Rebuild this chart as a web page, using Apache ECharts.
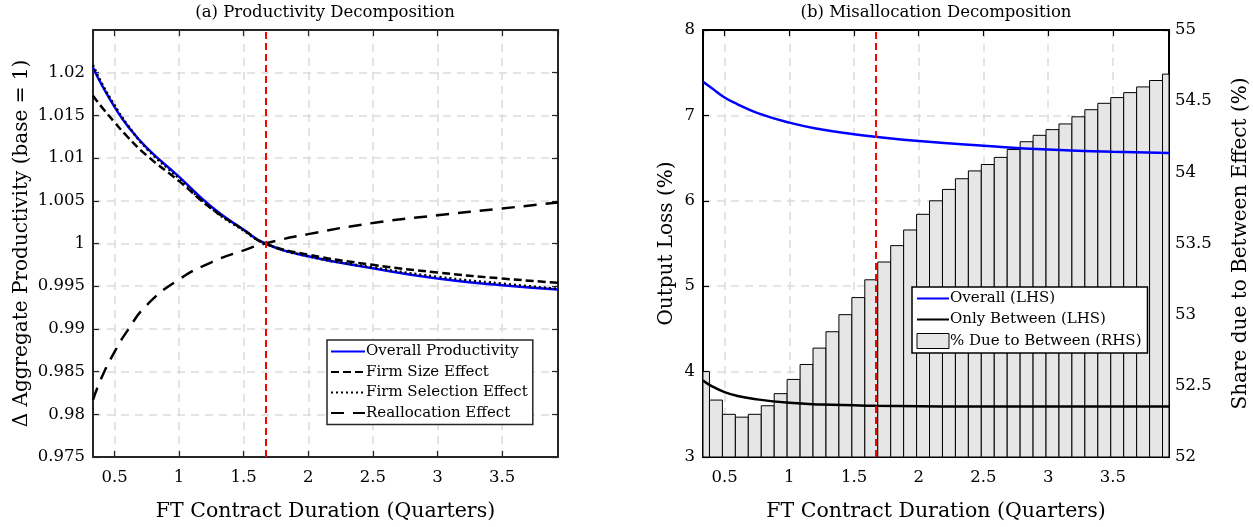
<!DOCTYPE html>
<html>
<head>
<meta charset="utf-8">
<script src="https://cdn.jsdelivr.net/npm/echarts@6/dist/echarts.min.js"></script>
<style>
html,body{margin:0;padding:0;background:#fff;}
#main{width:1253px;height:527px;}
</style>
</head>
<body>
<div id="main"></div>
<script>
// bar positions (quarters) and share due to between effect (RHS, %)
var xBar = [0.3333, 0.4333, 0.5333, 0.6333, 0.7333, 0.8333, 0.9333, 1.0333, 1.1333, 1.2333,
            1.3333, 1.4333, 1.5333, 1.6333, 1.7333, 1.8333, 1.9333, 2.0333, 2.1333, 2.2333,
            2.3333, 2.4333, 2.5333, 2.6333, 2.7333, 2.8333, 2.9333, 3.0333, 3.1333, 3.2333,
            3.3333, 3.4333, 3.5333, 3.6333, 3.7333, 3.8333, 3.9333];
var shareBetween = [52.60, 52.40, 52.30, 52.28, 52.30, 52.36, 52.445, 52.545, 52.65, 52.765,
                    52.88, 53.00, 53.12, 53.245, 53.37, 53.485, 53.595, 53.705, 53.80, 53.88,
                    53.955, 54.01, 54.055, 54.105, 54.16, 54.215, 54.26, 54.30, 54.34, 54.39,
                    54.44, 54.485, 54.525, 54.56, 54.60, 54.645, 54.69];
var barStep = 0.1;

// sample points for the curves
var xLine = [0.3333, 0.4, 0.5, 0.6, 0.75, 1.0, 1.25, 1.5, 1.6667, 2.0, 2.5, 3.0, 3.5, 3.9333];

// (a) productivity decomposition
var overallProd   = [1.0206, 1.0186, 1.0160, 1.0138, 1.0112, 1.0078, 1.0043, 1.0016, 1.0000, 0.9985, 0.9971, 0.9959, 0.9951, 0.9946];
var firmSize      = [1.0173, 1.0160, 1.0142, 1.0125, 1.0103, 1.0073, 1.0041, 1.0016, 1.0000, 0.9987, 0.9975, 0.9966, 0.9959, 0.9954];
var firmSelection = [1.0209, 1.0188, 1.0162, 1.0139, 1.0111, 1.0076, 1.0041, 1.0015, 1.0000, 0.9985, 0.9972, 0.9961, 0.9953, 0.9947];
var reallocation  = [0.9817, 0.9843, 0.9873, 0.9898, 0.9928, 0.9958, 0.9978, 0.9992, 1.0000, 1.0011, 1.0024, 1.0033, 1.0041, 1.0048];

// (b) misallocation decomposition (LHS, %)
var overallLoss = [7.394, 7.32, 7.21, 7.13, 7.03, 6.915, 6.835, 6.78, 6.75, 6.70, 6.645, 6.60, 6.575, 6.56];
var onlyBetween = [3.896, 3.83, 3.76, 3.715, 3.675, 3.635, 3.615, 3.605, 3.60, 3.595, 3.59, 3.59, 3.59, 3.59];

var cutoff = 1.6667;

var FONT = '"DejaVu Serif", "Liberation Serif", serif';

function pairs(xs, ys) {
  return xs.map(function (x, i) { return [x, ys[i]]; });
}

function xAx(grid, pos, main, col) {
  return {
    type: 'value', gridIndex: grid, position: pos,
    min: 0.3333, max: 3.9333, splitNumber: 7,
    axisLine: {show: true, onZero: false, lineStyle: {color: col, width: 2}},
    axisTick: {show: true, inside: true, length: 6, lineStyle: {color: col, width: 1.2}},
    axisLabel: {show: main, showMinLabel: false, showMaxLabel: false, margin: 12,
                fontFamily: FONT, fontSize: 16.5, color: '#000'},
    splitLine: {show: main, lineStyle: {color: '#dcdcdc', type: [8, 6], width: 1.5}},
    name: main ? 'FT Contract Duration (Quarters)' : '',
    nameLocation: 'middle', nameGap: 44,
    nameTextStyle: {fontFamily: FONT, fontSize: 20.5, color: '#000'}
  };
}

// bars drawn through the axes and cut to the plot area
function renderBar(params, api) {
  var top = api.coord([api.value(0), api.value(1)]);
  var base = api.coord([api.value(0), 52]);
  var w = api.size([barStep, 0])[0];
  var cs = params.coordSys;
  var rect = echarts.graphic.clipRectByRect(
    {x: top[0] - w / 2, y: top[1], width: w, height: base[1] - top[1]},
    {x: cs.x, y: cs.y, width: cs.width, height: cs.height}
  );
  if (!rect) return;
  return {type: 'rect', shape: rect, style: api.style()};
}

var grid = [
  {left: 93, top: 30, width: 465, height: 433},
  {left: 703, top: 30, width: 466, height: 433}
];

var chart = echarts.init(document.getElementById('main'));
chart.setOption({
  animation: false,
  backgroundColor: '#fff',
  grid: grid,
  graphic: [
    {type: 'text', x: 325, y: 4, style: {text: '(a) Productivity Decomposition', textAlign: 'center',
      fontFamily: FONT, fontSize: 16.5, fill: '#000'}},
    {type: 'text', x: 936, y: 4, style: {text: '(b) Misallocation Decomposition', textAlign: 'center',
      fontFamily: FONT, fontSize: 16.5, fill: '#000'}}
  ],
  xAxis: [
    xAx(0, 'bottom', true, '#262626'),
    xAx(0, 'top', false, '#262626'),
    xAx(1, 'bottom', true, '#000'),
    xAx(1, 'top', false, '#000')
  ],
  yAxis: [
    {
      type: 'value', gridIndex: 0, position: 'left', min: 0.975, max: 1.025, interval: 0.005,
      axisLine: {show: true, onZero: false, lineStyle: {color: '#262626', width: 2}},
      axisTick: {show: true, inside: true, length: 6, lineStyle: {color: '#262626', width: 1.2}},
      axisLabel: {showMaxLabel: false, margin: 8, fontFamily: FONT, fontSize: 16.5, color: '#000',
                  formatter: function (v) { return String(parseFloat(v.toFixed(3))); }},
      splitLine: {show: true, lineStyle: {color: '#dcdcdc', type: [8, 6], width: 1.5}},
      name: '\u0394 Aggregate Productivity (base = 1)', nameLocation: 'middle', nameGap: 61, nameRotate: 90,
      nameTextStyle: {fontFamily: FONT, fontSize: 20, color: '#000'}
    },
    {
      type: 'value', gridIndex: 0, position: 'right', min: 0.975, max: 1.025, interval: 0.005,
      axisLine: {show: true, onZero: false, lineStyle: {color: '#262626', width: 2}},
      axisTick: {show: true, inside: true, length: 6, lineStyle: {color: '#262626', width: 1.2}},
      axisLabel: {show: false}, splitLine: {show: false}
    },
    {
      type: 'value', gridIndex: 1, position: 'left', min: 3, max: 8, interval: 1,
      axisLine: {show: true, onZero: false, lineStyle: {color: '#000', width: 2}},
      axisTick: {show: true, inside: true, length: 6, lineStyle: {color: '#000', width: 1.2}},
      axisLabel: {margin: 8, fontFamily: FONT, fontSize: 16.5, color: '#000'},
      splitLine: {show: true, lineStyle: {color: '#dcdcdc', type: [8, 6], width: 1.5}},
      name: 'Output Loss (%)', nameLocation: 'middle', nameGap: 26, nameRotate: 90,
      nameTextStyle: {fontFamily: FONT, fontSize: 20, color: '#000'}
    },
    {
      type: 'value', gridIndex: 1, position: 'right', min: 52, max: 55, interval: 0.5,
      axisLine: {show: true, onZero: false, lineStyle: {color: '#000', width: 2}},
      axisTick: {show: true, inside: true, length: 6, lineStyle: {color: '#000', width: 1.2}},
      axisLabel: {margin: 6, fontFamily: FONT, fontSize: 16.5, color: '#000'},
      splitLine: {show: false},
      name: 'Share due to Between Effect (%)', nameLocation: 'middle', nameGap: 62, nameRotate: 90,
      nameTextStyle: {fontFamily: FONT, fontSize: 20, color: '#000'}
    }
  ],
  legend: [
    {
      data: ['Overall Productivity', 'Firm Size Effect', 'Firm Selection Effect', 'Reallocation Effect'],
      orient: 'vertical', left: 327, top: 340, itemGap: 5.5, itemWidth: 34, itemHeight: 15,
      itemStyle: {opacity: 0},
      backgroundColor: '#fff', borderColor: '#262626', borderWidth: 1.5, borderRadius: 0,
      padding: [4, 5, 4, 3], selectedMode: false,
      textStyle: {fontFamily: FONT, fontSize: 15, color: '#000', padding: [0, 0, 0, -4]}
    },
    {
      data: ['Overall (LHS)', 'Only Between (LHS)',
             {name: '% Due to Between (RHS)', icon: 'rect',
              itemStyle: {color: '#e6e6e6', borderColor: '#000', borderWidth: 1, opacity: 1}}],
      orient: 'vertical', left: 912, top: 287, itemGap: 6, itemWidth: 32, itemHeight: 15,
      itemStyle: {opacity: 0},
      backgroundColor: '#fff', borderColor: '#000', borderWidth: 1.5, borderRadius: 0,
      padding: [4, 6, 4, 4], selectedMode: false,
      textStyle: {fontFamily: FONT, fontSize: 15, color: '#000', padding: [0, 0, 0, -4]}
    }
  ],
  series: [
    {
      name: 'Firm Size Effect', type: 'line', xAxisIndex: 0, yAxisIndex: 0, smooth: true,
      symbol: 'none', data: pairs(xLine, firmSize), z: 3,
      lineStyle: {color: '#000', width: 2.5, type: [8, 4]}
    },
    {
      name: 'Firm Selection Effect', type: 'line', xAxisIndex: 0, yAxisIndex: 0, smooth: true,
      symbol: 'none', data: pairs(xLine, firmSelection), z: 3,
      lineStyle: {color: '#000', width: 2.5, type: [2, 3]}
    },
    {
      name: 'Overall Productivity', type: 'line', xAxisIndex: 0, yAxisIndex: 0, smooth: true,
      symbol: 'none', data: pairs(xLine, overallProd), z: 2,
      lineStyle: {color: '#0000ff', width: 2.5}
    },
    {
      name: 'Reallocation Effect', type: 'line', xAxisIndex: 0, yAxisIndex: 0, smooth: true,
      symbol: 'none', data: pairs(xLine, reallocation), z: 3,
      lineStyle: {color: '#000', width: 2.5, type: [13, 9]},
      markLine: {
        silent: true, symbol: 'none', label: {show: false},
        lineStyle: {color: '#ff0000', width: 2, type: [7, 4]},
        data: [{xAxis: cutoff}]
      }
    },
    {
      name: '% Due to Between (RHS)', type: 'custom', xAxisIndex: 2, yAxisIndex: 3,
      renderItem: renderBar, encode: {x: 0, y: 1}, data: pairs(xBar, shareBetween), z: 1,
      itemStyle: {color: '#e6e6e6', borderColor: '#000', borderWidth: 1}
    },
    {
      name: 'Overall (LHS)', type: 'line', xAxisIndex: 2, yAxisIndex: 2, smooth: true,
      symbol: 'none', data: pairs(xLine, overallLoss), z: 4,
      lineStyle: {color: '#0000ff', width: 2.5}
    },
    {
      name: 'Only Between (LHS)', type: 'line', xAxisIndex: 2, yAxisIndex: 2, smooth: true,
      symbol: 'none', data: pairs(xLine, onlyBetween), z: 4,
      lineStyle: {color: '#000', width: 2.5},
      markLine: {
        silent: true, symbol: 'none', label: {show: false},
        lineStyle: {color: '#ff0000', width: 2, type: [7, 4]},
        data: [{xAxis: cutoff}]
      }
    }
  ]
});
</script>
</body>
</html>
